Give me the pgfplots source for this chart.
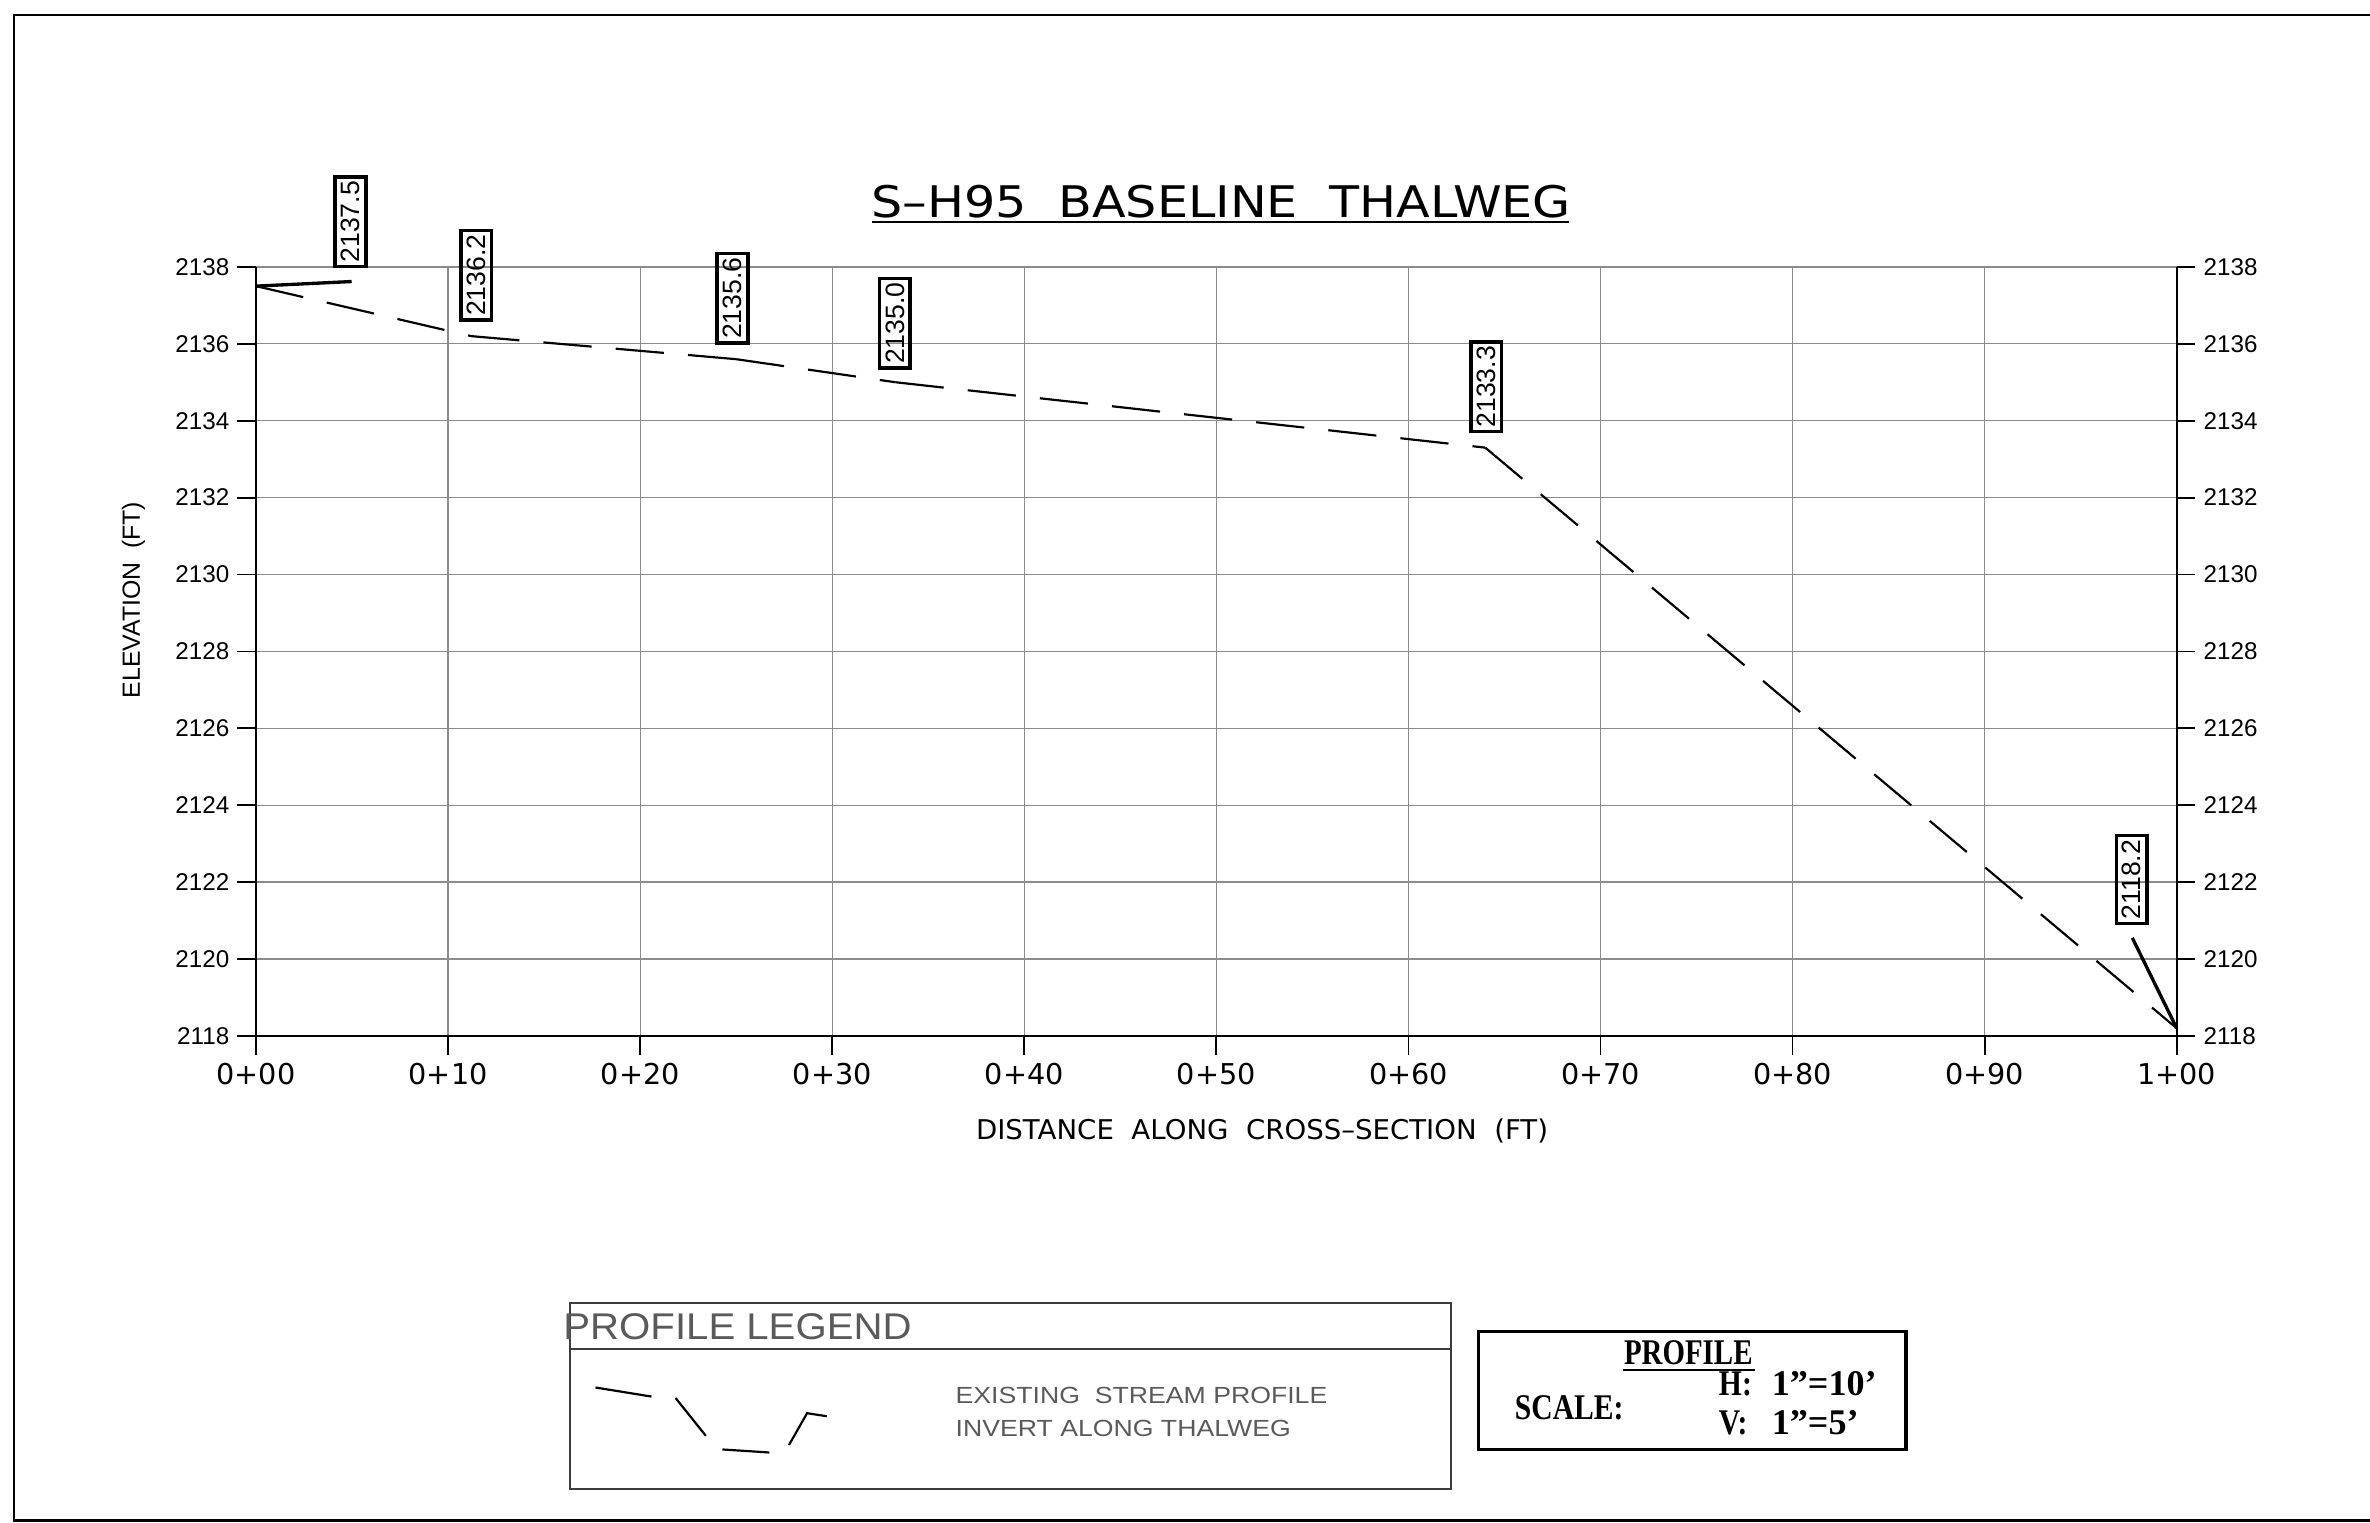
\documentclass[border=0pt]{standalone}
\usepackage{fontspec}
\usepackage{pgfplots}
\pgfplotsset{compat=1.18}
\setmainfont{DejaVu Sans}
\newfontfamily\arialf{Liberation Sans}
\newfontfamily\serifb{Liberation Serif}
\newcommand\fs[1]{\fontsize{#1}{#1}\selectfont}
\definecolor{gridgray}{HTML}{8C8C8C}
\definecolor{leggray}{HTML}{5A5A5A}
\definecolor{legline}{HTML}{3C3C3C}
\begin{document}
\begin{tikzpicture}
\useasboundingbox (0,0) rectangle (392mm,251.75mm);
\begin{axis}[
  at={(42.35mm,80.4mm)}, anchor=south west,
  scale only axis, width=317.675mm, height=127.2mm,
  xmin=0, xmax=100, ymin=2118, ymax=2138,
  axis x line*=bottom, axis y line*=left,
  axis line style={black, line width=0.3mm},
  xtick={0,10,...,100},
  xticklabels={0+00,0+10,0+20,0+30,0+40,0+50,0+60,0+70,0+80,0+90,1+00},
  ytick={2118,2120,...,2138},
  yticklabels={2118,2120,2122,2124,2126,2128,2130,2132,2134,2136,2138},
  tick align=outside,
  major tick length=3.2mm,
  tick style={black, line width=0.3mm},
  grid=major,
  grid style={gridgray, line width=0.22mm},
  xticklabel style={font=\fs{13.5pt}, inner sep=0pt, yshift=-1.25mm},
  yticklabel style={font=\arialf\fs{11.4pt}, inner sep=0pt, xshift=-1.15mm},
  clip=false,
]
% thalweg profile, one segment at a time (dash pattern restarts at each vertex)
\addplot[black, line width=0.36mm, dash pattern=on 8mm off 4mm] coordinates {(0,2137.5) (11.2,2136.2)};
\addplot[black, line width=0.36mm, dash pattern=on 8mm off 4mm] coordinates {(11.2,2136.2) (25,2135.6)};
\addplot[black, line width=0.36mm, dash pattern=on 8mm off 4mm] coordinates {(25,2135.6) (33.3,2135.0)};
\addplot[black, line width=0.36mm, dash pattern=on 8mm off 4mm] coordinates {(33.3,2135.0) (64,2133.3)};
\addplot[black, line width=0.36mm, dash pattern=on 8mm off 4mm] coordinates {(64,2133.3) (100,2118.2)};
% leaders
\addplot[black, line width=0.55mm] coordinates {(0,2137.5) (4.98,2137.62)};
\addplot[black, line width=0.55mm] coordinates {(97.69,2120.55) (100,2118.2)};
% value labels
\tikzset{vl/.style={draw, line width=0.6mm, rotate=90, anchor=west, inner xsep=0.7mm, inner ysep=1.0mm, font=\arialf\fs{12.5pt}}}
\node[vl] at (axis cs:4.93,2137.96) {2137.5};
\node[vl] at (axis cs:11.46,2136.57) {2136.2};
\node[vl] at (axis cs:24.8,2135.97) {2135.6};
\node[vl] at (axis cs:33.26,2135.32) {2135.0};
\node[vl] at (axis cs:64.05,2133.67) {2133.3};
\node[vl] at (axis cs:97.66,2120.88) {2118.2};
\end{axis}
\begin{axis}[
  at={(42.35mm,80.4mm)}, anchor=south west,
  scale only axis, width=317.675mm, height=127.2mm,
  xmin=0, xmax=100, ymin=2118, ymax=2138,
  axis x line=none, axis y line*=right,
  axis line style={black, line width=0.3mm},
  ytick={2118,2120,...,2138},
  yticklabels={2118,2120,2122,2124,2126,2128,2130,2132,2134,2136,2138},
  tick align=outside,
  major tick length=3mm,
  tick style={black, line width=0.3mm},
  yticklabel style={font=\arialf\fs{11.4pt}, inner sep=0pt, xshift=1.4mm},
]
\addplot[draw=none] coordinates {(0,2118) (100,2138)};
\end{axis}
\begin{scope}[x=0.25mm, y=-0.25mm, shift={(0mm,251.75mm)}]
% outer frame
\draw[line width=0.45mm] (1590,10) -- (9.3,10) -- (9.3,1006) -- (1590,1006);
% title
\node[anchor=base, font=\fs{20.5pt}, inner sep=0pt] at (808,144) {\scalebox{1.13}[1]{S–H95\ \ BASELINE\ \ THALWEG}};
\draw[line width=0.35mm] (576.6,146.8) -- (1037.8,146.8);
% axis labels
\node[anchor=base, font=\fs{12.8pt}, inner sep=0pt] at (835,754) {\scalebox{1.015}[1]{DISTANCE\ \ ALONG\ \ CROSS–SECTION\ \ (FT)}};
\node[anchor=base, rotate=90, font=\arialf\fs{11.7pt}, inner sep=0pt] at (92.6,397) {ELEVATION\ \ (FT)};
% profile legend
\draw[legline, line width=0.4mm] (377,862) rectangle (960,985);
\draw[legline, line width=0.25mm] (377,892.5) -- (960,892.5);
\node[anchor=base west, text=leggray, font=\arialf\fs{17.5pt}, inner sep=0pt] at (372.5,886) {\scalebox{1.08}[1]{PROFILE LEGEND}};
\draw[black, line width=0.36mm] (394,918) -- (431,924);
\draw[black, line width=0.36mm] (447,925) -- (467,950);
\draw[black, line width=0.36mm] (478,959) -- (509,961);
\draw[black, line width=0.36mm] (522,956) -- (534,935) -- (547,937);
\node[anchor=base west, text=leggray, font=\arialf\fs{11pt}, inner sep=0pt] at (632,928.4) {\scalebox{1.14}[1]{EXISTING\ \ STREAM PROFILE}};
\node[anchor=base west, text=leggray, font=\arialf\fs{11pt}, inner sep=0pt] at (632,950.5) {\scalebox{1.14}[1]{INVERT ALONG THALWEG}};
% scale box
\draw[line width=0.53mm] (978,881) rectangle (1261,959);
\node[anchor=base, font=\serifb\bfseries\fs{17pt}, inner sep=0pt] at (1117,903) {\scalebox{0.8}[1]{PROFILE}};
\draw[line width=0.4mm] (1074,906.5) -- (1161,906.5);
\node[anchor=base west, font=\serifb\bfseries\fs{17pt}, inner sep=0pt] at (1002,939) {\scalebox{0.82}[1]{SCALE:}};
\node[anchor=base west, font=\serifb\bfseries\fs{17pt}, inner sep=0pt] at (1137,923) {\scalebox{0.82}[1]{H:}};
\node[anchor=base west, font=\serifb\bfseries\fs{17pt}, inner sep=0pt] at (1172,923) {\scalebox{1.0}[1]{1”=10’}};
\node[anchor=base west, font=\serifb\bfseries\fs{17pt}, inner sep=0pt] at (1137,949) {\scalebox{0.82}[1]{V:}};
\node[anchor=base west, font=\serifb\bfseries\fs{17pt}, inner sep=0pt] at (1172,949) {\scalebox{1.0}[1]{1”=5’}};
\end{scope}
\end{tikzpicture}
\end{document}
